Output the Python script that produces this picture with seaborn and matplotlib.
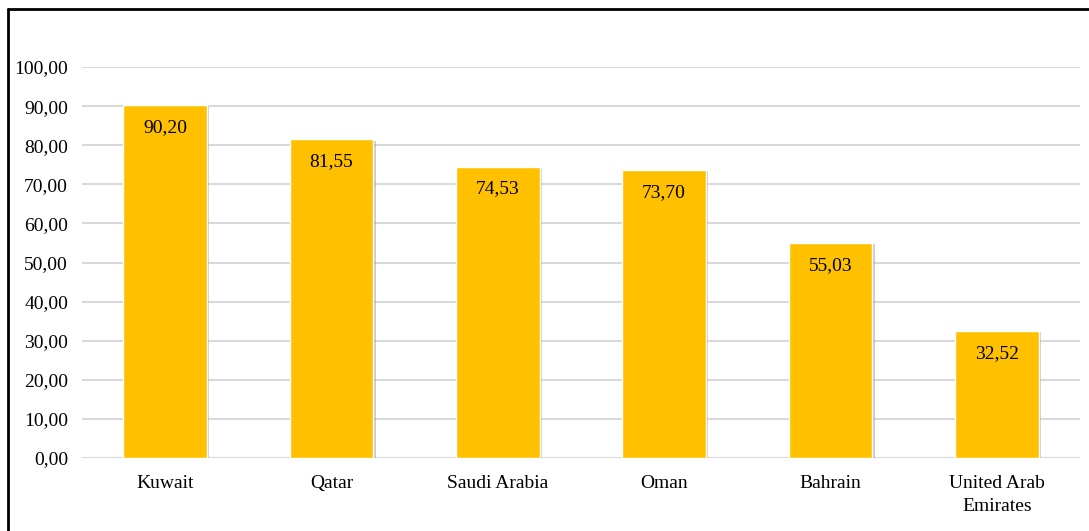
import matplotlib
matplotlib.use("Agg")
import matplotlib.pyplot as plt
import matplotlib.patheffects as pe
from matplotlib.lines import Line2D
import seaborn as sns
import pandas as pd

countries = ["Kuwait", "Qatar", "Saudi Arabia", "Oman", "Bahrain", "United Arab\nEmirates"]
scores = [90.20, 81.55, 74.53, 73.70, 55.03, 32.52]
y_ticks = [0, 10, 20, 30, 40, 50, 60, 70, 80, 90, 100]

sns.set_style("white")
plt.rcParams["font.family"] = ["Liberation Serif", "DejaVu Serif"]
plt.rcParams["text.color"] = "black"
plt.rcParams["xtick.color"] = "black"
plt.rcParams["ytick.color"] = "black"

df = pd.DataFrame({"country": countries, "score": scores})

fig = plt.figure(figsize=(10.89, 5.31), dpi=100)
ax = fig.add_axes([82 / 1089, 1 - 458 / 531, (1080 - 82) / 1089, (458 - 67) / 531])

sns.barplot(data=df, x="country", y="score", color="#FFC000", saturation=1,
            width=0.505, ax=ax, zorder=3)

# soft shadow on the bars, like the office chart
for bar in ax.patches:
    bar.set_path_effects([pe.SimplePatchShadow(offset=(1.5, -1), shadow_rgbFace="#999999", alpha=0.5),
                          pe.Normal()])

for i, v in enumerate(scores):
    ax.annotate(f"{v:.2f}".replace(".", ","), xy=(i, v), xytext=(0, -10),
                textcoords="offset points", ha="center", va="top", fontsize=14,
                color="black", zorder=4)

ax.set_xlim(-0.5, len(countries) - 0.5)
ax.set_ylim(0, 100)
ax.set_yticks(y_ticks)
ax.set_yticklabels([f"{t:.2f}".replace(".", ",") for t in y_ticks], fontsize=14)
for lbl in ax.get_xticklabels():
    lbl.set_linespacing(1.45)
ax.tick_params(axis="x", labelsize=14, length=0, pad=12)
ax.tick_params(axis="y", length=0, pad=10)
ax.set_xlabel("")
ax.set_ylabel("")

ax.grid(axis="y", color="#D9D9D9", linewidth=1.5, zorder=0)
ax.set_axisbelow(True)
for s in ax.spines.values():
    s.set_visible(False)

# frame around the chart area (left and top visible in the reference)
fig.add_artist(Line2D([7.5 / 1089, 7.5 / 1089], [0, 1 - 8.5 / 531], color="black", linewidth=2,
                      transform=fig.transFigure))
fig.add_artist(Line2D([7.5 / 1089, 1], [1 - 8.5 / 531, 1 - 8.5 / 531], color="black", linewidth=2,
                      transform=fig.transFigure))

fig.savefig("out.png", dpi=100)
